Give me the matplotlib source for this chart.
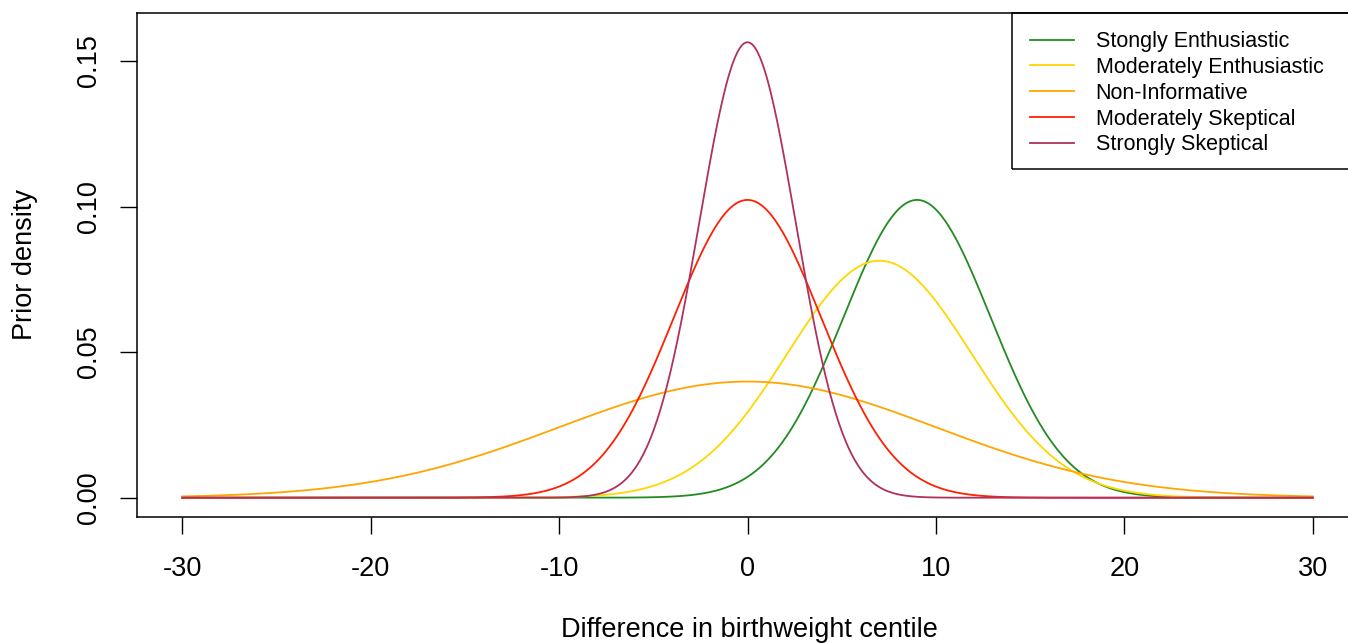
import numpy as np
import matplotlib
matplotlib.use("Agg")
import matplotlib.pyplot as plt

# prior distributions (normal): label, mean, sd, colour
labels = ["Stongly Enthusiastic", "Moderately Enthusiastic", "Non-Informative",
          "Moderately Skeptical", "Strongly Skeptical"]
means = [9, 7, 0, 0, 0]
sds = [3.9, 4.9, 10.0, 3.9, 2.55]
colors = ["#228B22", "#FFD700", "#FFA500", "#FF2000", "#B03060"]

x_ticks = [-30, -20, -10, 0, 10, 20, 30]
y_ticks = [0.00, 0.05, 0.10, 0.15]

plt.rcParams['font.family'] = ['Liberation Sans', 'DejaVu Sans']

W, H = 1348, 643
fig = plt.figure(figsize=(W / 100, H / 100), dpi=100)

# axes box in pixels (right edge runs past the image, as in the reference)
left, right, top, bottom = 137, 1358, 13, 517
ax = fig.add_axes([left / W, (H - bottom) / H, (right - left) / W, (bottom - top) / H])

x = np.linspace(-30, 30, 1001)
for lab, m, s, c in zip(labels, means, sds, colors):
    dens = np.exp(-0.5 * ((x - m) / s) ** 2) / (s * np.sqrt(2 * np.pi))
    ax.plot(x, dens, color=c, lw=1.3, label=lab)

ax.set_xlim(-32.4, 32.4)
ax.set_ylim(-0.00663, 0.1665)
ax.set_xticks(x_ticks)
ax.set_xticklabels([str(t) for t in x_ticks])
ax.set_yticks(y_ticks)
ax.set_yticklabels(["%.2f" % t for t in y_ticks], rotation=90, va='center')

ax.tick_params(axis='both', direction='out', length=12, width=1.0, labelsize=19.5,
               color='black')
ax.tick_params(axis='x', pad=16)
ax.tick_params(axis='y', pad=13)
for sp in ax.spines.values():
    sp.set_linewidth(1.1)
    sp.set_color('black')

fig.text(749 / W, (H - 637) / H, "Difference in birthweight centile",
         ha='center', va='baseline', fontsize=19.5)
fig.text(25 / W, (H - 265) / H, "Prior density", ha='center', va='center',
         rotation=90, fontsize=19.5)

# legend box: left edge at x=1012, runs off the right side of the image
fig.add_artist(plt.Rectangle((1012 / W, (H - 169) / H), 400 / W, 156 / H,
                             transform=fig.transFigure, fill=False,
                             edgecolor='black', linewidth=1.1, zorder=5))
leg = ax.legend(loc='upper left', bbox_to_anchor=(1012 / W, (H - 13) / H),
                bbox_transform=fig.transFigure, fontsize=15.5, frameon=False,
                borderaxespad=0, handlelength=2.05, handletextpad=0.98,
                labelspacing=0.22, borderpad=0.85)

fig.savefig("out.png", dpi=100, facecolor='white')
